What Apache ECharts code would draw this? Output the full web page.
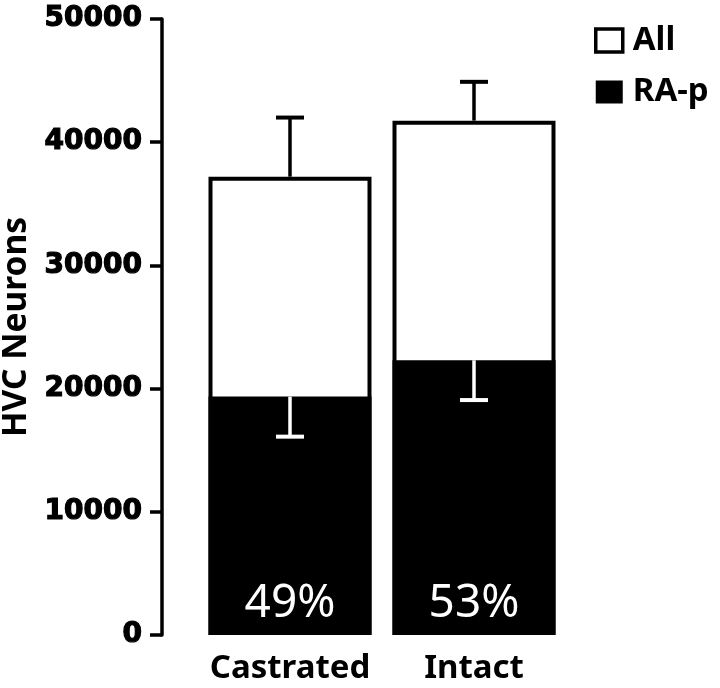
<!DOCTYPE html>
<html>
<head>
<meta charset="utf-8">
<script src="https://cdn.jsdelivr.net/npm/echarts@6/dist/echarts.min.js"></script>
<style>html,body{margin:0;padding:0;background:#fff;}#c{width:720px;height:688px;}</style>
</head>
<body>
<div id="c"></div>
<script>
var categories = ['Castrated', 'Intact'];
var allNeurons = [37200, 41750];
var allSem = [4800, 3150];
var raNeurons = [19350, 22300];
var raSem = [3250, 3230];
var percentLabels = ['49%', '53%'];
var yTicks = [0, 10000, 20000, 30000, 40000, 50000];

var chart = echarts.init(document.getElementById('c'));

function errItem(color) {
  return function (params, api) {
    var i = api.value(0);
    var p0 = api.coord([i, api.value(1)]);
    var p1 = api.coord([i, api.value(2)]);
    var half = 14;
    return {
      type: 'group',
      children: [
        { type: 'line', shape: { x1: p0[0], y1: p0[1], x2: p1[0], y2: p1[1] }, style: { stroke: color, lineWidth: 3.5 } },
        { type: 'line', shape: { x1: p1[0] - half, y1: p1[1], x2: p1[0] + half, y2: p1[1] }, style: { stroke: color, lineWidth: 4 } }
      ]
    };
  };
}

var option = {
  animation: false,
  backgroundColor: '#fff',
  grid: { left: 198, right: 154, top: 19, bottom: 53, outerBoundsMode: 'none', containLabel: false },
  legend: {
    orient: 'vertical',
    left: 589,
    top: 19,
    itemWidth: 27,
    itemHeight: 23,
    itemGap: 18.5,
    textStyle: { fontFamily: 'Noto Sans', fontWeight: 'bold', fontSize: 33, lineHeight: 23, color: '#000', padding: [0, 0, 0, 5] },
    data: [
      { name: 'All', icon: 'rect', itemStyle: { color: '#fff', borderColor: '#000', borderWidth: 3.5 } },
      { name: 'RA-p', icon: 'rect', itemStyle: { color: '#000', borderWidth: 0 } }
    ]
  },
  xAxis: {
    type: 'category',
    data: categories,
    axisLine: { show: false },
    axisTick: { show: false },
    axisLabel: { interval: 0, color: '#000', fontFamily: 'Noto Sans', fontWeight: 'bold', fontSize: 33, margin: 17 }
  },
  yAxis: {
    type: 'value',
    min: 0,
    max: 50000,
    interval: 10000,
    offset: 36,
    name: 'HVC Neurons',
    nameLocation: 'middle',
    nameGap: 129,
    nameRotate: 90,
    nameTextStyle: { color: '#000', fontFamily: 'Noto Sans', fontWeight: 'bold', fontSize: 33.5 },
    splitLine: { show: false },
    axisLine: { show: true, lineStyle: { color: '#000', width: 3.5 } },
    axisTick: { show: true, length: 12, lineStyle: { color: '#000', width: 3.5 } },
    axisLabel: {
      color: '#000', fontFamily: 'DejaVu Sans', fontWeight: 'bold', fontSize: 28, margin: 20,
      textBorderColor: '#000', textBorderWidth: 1.2,
      formatter: function (v) { return yTicks.indexOf(v) >= 0 ? String(v) : ''; }
    }
  },
  series: [
    {
      name: 'All', type: 'bar', barWidth: 163, barGap: '-100%',
      data: allNeurons,
      itemStyle: { color: '#fff', borderColor: '#000', borderWidth: 4 },
      z: 2
    },
    {
      name: 'RA-p', type: 'bar', barWidth: 163, barGap: '-100%',
      data: raNeurons,
      itemStyle: { color: '#000', borderColor: '#000', borderWidth: 4 },
      label: {
        show: true, position: 'insideBottom', distance: 8,
        color: '#fff', fontFamily: 'Noto Sans', fontSize: 46,
        formatter: function (p) { return percentLabels[p.dataIndex]; }
      },
      z: 3
    },
    {
      type: 'custom', name: 'allErr',
      renderItem: errItem('#000'),
      data: allNeurons.map(function (v, i) { return [i, v, v + allSem[i]]; }),
      z: 4, silent: true
    },
    {
      type: 'custom', name: 'raErr',
      renderItem: errItem('#fff'),
      data: raNeurons.map(function (v, i) { return [i, v, v - raSem[i]]; }),
      z: 5, silent: true
    }
  ]
};
chart.setOption(option);
</script>
</body>
</html>
